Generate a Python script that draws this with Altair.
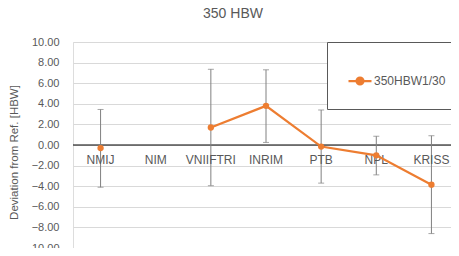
import altair as alt
import pandas as pd

cats = ["NMIJ", "NIM", "VNIIFTRI", "INRIM", "PTB", "NPL", "KRISS"]
values = [-0.3, None, 1.7, 3.8, -0.15, -1.0, -3.85]
upper = [3.45, None, 7.35, 7.3, 3.4, 0.85, 0.9]
lower = [-4.1, None, -3.95, 0.25, -3.7, -2.9, -8.6]
series = "350HBW1/30"
yticks = [-10, -8, -6, -4, -2, 0, 2, 4, 6, 8, 10]

df = pd.DataFrame({"cat": cats, "val": values, "hi": upper, "lo": lower})
df["series"] = series

FONT = "Liberation Sans"
GRAY = "#595959"
ORANGE = "#ED7D31"

xenc = alt.X("cat:N", scale=alt.Scale(domain=cats), sort=cats, axis=None)
yscale = alt.Scale(domain=[-10, 10], nice=False, zero=False)
yaxis = alt.Axis(values=yticks, format=".2f", grid=True, gridColor="#d9d9d9",
                 domain=False, ticks=False, labelPadding=14, labelFontSize=11,
                 labelColor=GRAY, labelFont=FONT, labelOverlap=False,
                 labelFlush=False,
                 title="Deviation from Ref. [HBW]", titleFontSize=11.5,
                 titleFontWeight="normal", titleColor=GRAY, titleFont=FONT,
                 titlePadding=6, titleY=110)

base = alt.Chart(df)

grid = base.mark_rule(opacity=0).encode(
    y=alt.Y("val:Q", scale=yscale, axis=yaxis),
)

zero = alt.Chart(pd.DataFrame({"z": [0]})).mark_rule(color="black", strokeWidth=1).encode(
    y=alt.Y("z:Q", scale=yscale, axis=yaxis)
)

err = base.mark_rule(color="#808080", strokeWidth=1).encode(
    x=xenc, y=alt.Y("lo:Q", scale=yscale, axis=yaxis), y2="hi:Q"
)
tick_hi = base.mark_tick(orient="horizontal", size=6, thickness=1, color="#808080").encode(
    x=xenc, y=alt.Y("hi:Q", scale=yscale, axis=yaxis)
)
tick_lo = base.mark_tick(orient="horizontal", size=6, thickness=1, color="#808080").encode(
    x=xenc, y=alt.Y("lo:Q", scale=yscale, axis=yaxis)
)

legend = alt.Legend(
    title=" ", titleFontSize=6, titlePadding=0,
    orient="none", legendX=254, legendY=0,
    strokeColor=GRAY, padding=20, fillColor="white",
    labelFontSize=12, labelColor=GRAY, labelFont=FONT, labelOffset=1,
    symbolType="M-1,0L1,0M-0.3,0A0.3,0.3,0,1,1,0.3,0A0.3,0.3,0,1,1,-0.3,0Z",
    symbolSize=529, symbolStrokeWidth=2.25, symbolFillColor=ORANGE, symbolStrokeColor=ORANGE,
)
color = alt.Color("series:N", scale=alt.Scale(domain=[series], range=[ORANGE]), legend=legend)

line = base.mark_line(strokeWidth=2.25, invalid="break-paths-show-domains").encode(
    x=xenc, y=alt.Y("val:Q", scale=yscale, axis=yaxis), color=color
)
pts = base.mark_point(filled=True, size=40, opacity=1).encode(
    x=xenc, y=alt.Y("val:Q", scale=yscale, axis=yaxis), color=color
)

labels = base.mark_text(dy=15, fontSize=12, color=GRAY, font=FONT, baseline="middle").encode(
    x=xenc, y=alt.Y("zero:Q", scale=yscale, axis=yaxis), text="cat:N"
).transform_calculate(zero="0")

chart = alt.layer(grid, zero, err, tick_hi, tick_lo, labels, line, pts).properties(
    width=386, height=206,
    autosize=alt.AutoSizeParams(type="none"),
    padding={"left": 65, "top": 34, "right": -8, "bottom": 0},
    title=alt.TitleParams("350 HBW", anchor="middle", offset=15, dx=-33, fontSize=14,
                          fontWeight="normal", color=GRAY, font=FONT),
).configure_view(stroke=GRAY, strokeWidth=1).configure_axisY(
    labelOverlap=False
).configure(background="white")

chart.save("out.html", embed_options={"renderer": "svg", "actions": False})
